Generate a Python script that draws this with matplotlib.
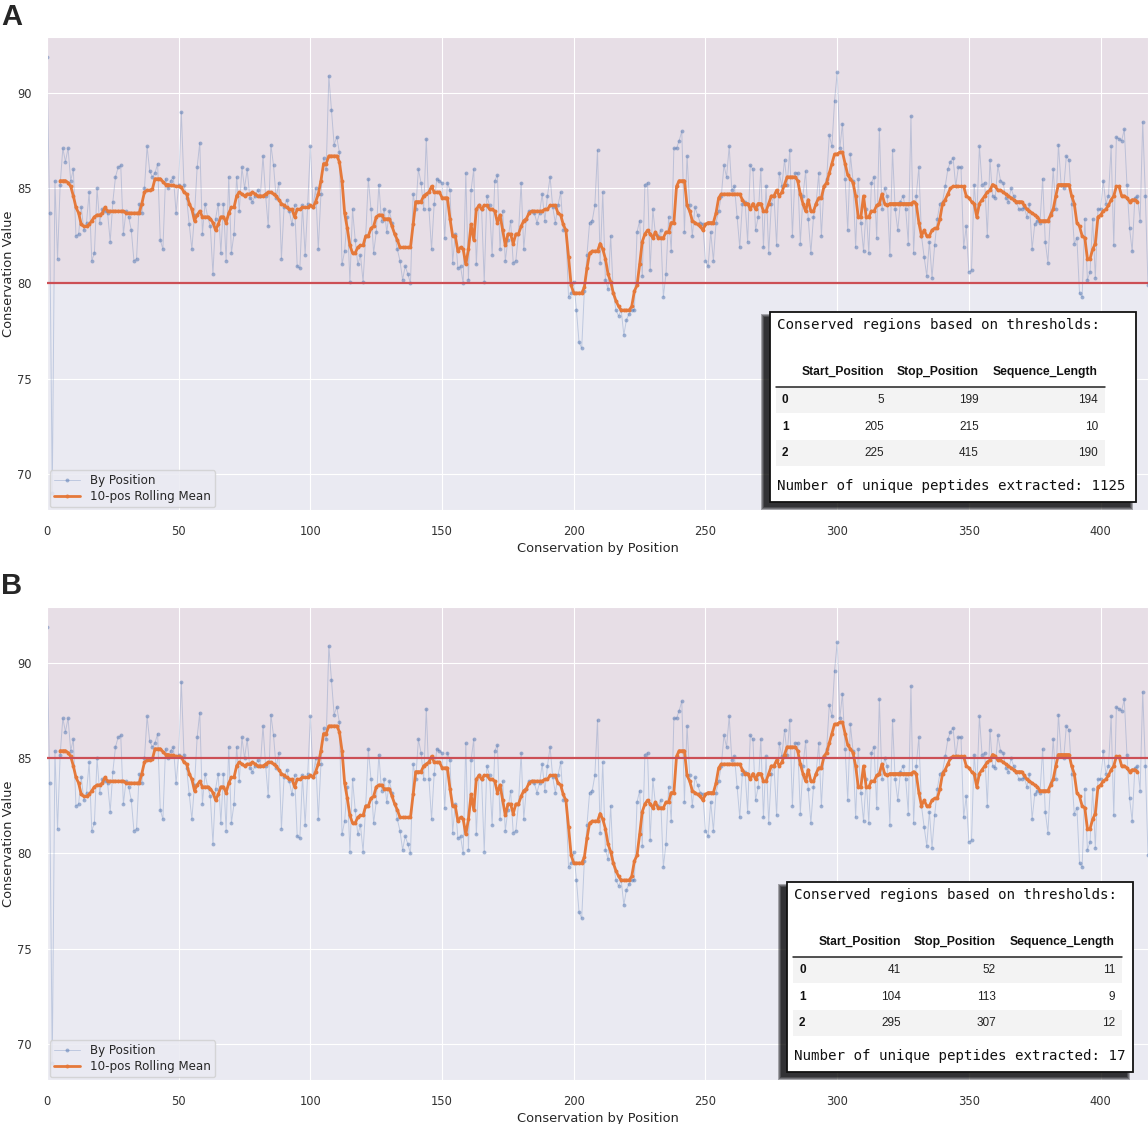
import numpy as np
import matplotlib.pyplot as plt
import seaborn as sns
from matplotlib.patches import Rectangle
from matplotlib.lines import Line2D

sns.set_style("darkgrid")
plt.rcParams['font.family'] = ['DejaVu Sans']

# conservation value at each position (0..418)
conservation = [
    91.9, 83.7, 69.0, 85.4, 81.3, 85.2, 87.1, 86.4, 87.1, 85.4,
    86.0, 82.5, 82.6, 84.0, 82.8, 83.2, 84.8, 81.2, 81.6, 85.0,
    83.2, 83.9, 83.8, 83.7, 82.2, 84.3, 85.6, 86.1, 86.2, 82.6,
    83.8, 83.5, 82.8, 81.2, 81.3, 84.2, 83.7, 85.0, 87.2, 85.9,
    85.6, 85.8, 86.3, 82.3, 81.8, 85.5, 85.0, 85.4, 85.6, 83.7,
    85.2, 89.0, 85.2, 84.5, 83.1, 81.8, 83.6, 86.1, 87.4, 82.6,
    84.2, 83.5, 83.0, 80.5, 83.4, 84.2, 81.6, 84.2, 81.2, 85.6,
    81.6, 82.6, 85.6, 83.8, 86.1, 85.0, 86.0, 84.5, 84.3, 84.6,
    84.9, 84.6, 86.7, 84.6, 83.0, 87.3, 86.2, 84.5, 85.3, 81.3,
    84.0, 84.4, 83.8, 83.1, 84.1, 80.9, 80.8, 84.1, 81.5, 84.2,
    87.2, 84.0, 85.0, 81.8, 84.7, 86.6, 86.0, 90.9, 89.1, 87.3,
    87.7, 86.9, 81.0, 81.7, 83.5, 80.1, 83.9, 82.3, 81.0, 81.5,
    80.1, 82.5, 85.5, 83.9, 81.6, 82.7, 85.2, 83.3, 83.9, 82.7,
    83.8, 83.2, 82.6, 81.8, 81.2, 80.2, 80.9, 80.5, 80.0, 84.7,
    83.9, 86.0, 85.3, 83.9, 87.6, 83.9, 81.8, 84.2, 85.5, 85.4,
    85.3, 82.4, 85.3, 84.9, 81.1, 82.6, 80.8, 80.9, 80.0, 85.8,
    80.2, 84.9, 86.0, 81.0, 84.1, 83.9, 80.1, 84.6, 84.1, 81.5,
    85.4, 85.7, 81.8, 83.8, 81.2, 82.3, 83.3, 81.1, 81.2, 82.6,
    85.3, 81.8, 83.4, 83.8, 83.8, 83.7, 83.2, 83.7, 84.7, 83.3,
    84.6, 85.6, 84.0, 83.2, 84.1, 84.8, 82.8, 82.8, 79.3, 79.5,
    80.1, 78.6, 76.9, 76.6, 79.6, 81.5, 83.2, 83.3, 84.1, 87.0,
    81.1, 84.8, 80.2, 79.7, 82.5, 79.5, 78.6, 78.3, 78.6, 77.3,
    78.1, 78.4, 78.6, 78.6, 82.7, 83.3, 80.4, 85.2, 85.3, 80.7,
    83.9, 82.6, 82.5, 82.8, 79.3, 80.5, 83.5, 81.7, 87.1, 87.1,
    87.5, 88.0, 82.7, 86.7, 84.1, 82.5, 84.0, 83.6, 83.2, 83.1,
    81.2, 80.9, 82.7, 81.2, 83.2, 83.8, 84.6, 86.2, 85.6, 87.2,
    84.9, 85.1, 83.5, 81.9, 84.2, 84.3, 82.2, 86.2, 86.0, 82.8,
    83.5, 86.0, 81.9, 85.1, 81.6, 84.2, 84.6, 82.0, 85.8, 85.1,
    86.5, 85.2, 87.0, 82.5, 85.8, 85.8, 82.1, 84.6, 85.9, 83.4,
    81.6, 83.5, 84.2, 85.8, 82.5, 85.1, 85.5, 87.8, 87.2, 89.6,
    91.1, 87.1, 88.4, 85.5, 82.8, 86.8, 85.4, 81.9, 85.5, 83.2,
    81.7, 83.9, 81.6, 85.3, 85.6, 82.4, 88.1, 83.9, 85.0, 84.6,
    81.5, 87.0, 83.9, 82.8, 84.3, 84.6, 83.9, 82.1, 88.8, 81.6,
    84.6, 86.1, 82.5, 81.4, 80.4, 82.2, 80.3, 82.0, 83.4, 84.2,
    84.3, 85.1, 86.0, 86.4, 86.6, 85.1, 86.1, 86.1, 81.9, 83.0,
    80.6, 80.7, 85.2, 83.5, 87.2, 85.2, 85.3, 82.5, 86.5, 84.6,
    84.5, 86.2, 85.4, 85.3, 84.5, 84.3, 85.0, 84.6, 84.3, 83.9,
    83.9, 84.0, 83.5, 84.2, 81.8, 83.1, 83.3, 83.2, 85.5, 82.2,
    81.1, 83.7, 86.0, 83.9, 87.3, 85.2, 85.0, 86.7, 86.5, 84.2,
    82.1, 82.4, 79.5, 79.3, 83.4, 80.2, 80.6, 83.4, 80.3, 83.9,
    83.9, 85.4, 84.2, 84.6, 87.2, 82.0, 87.7, 87.6, 87.5, 88.1,
    85.2, 82.9, 81.7, 84.5, 84.6, 83.3, 88.5, 84.6, 79.9,
]

# 10-position rolling mean, defined from position 5 to 414
rolling_start = 5
rolling_mean = [
    85.4, 85.4, 85.4, 85.3, 85.1, 84.6, 84.0, 83.7, 83.1, 83.0,
    83.0, 83.1, 83.3, 83.5, 83.6, 83.6, 83.7, 84.0, 83.8, 83.8,
    83.8, 83.8, 83.8, 83.8, 83.8, 83.7, 83.7, 83.7, 83.7, 83.7,
    83.7, 84.2, 84.8, 84.9, 84.9, 84.95, 85.5, 85.5, 85.5, 85.35,
    85.2, 85.2, 85.15, 85.15, 85.1, 85.1, 85.05, 84.8, 84.7, 84.2,
    83.9, 83.3, 83.6, 83.8, 83.5, 83.5, 83.5, 83.4, 83.2, 82.8,
    83.1, 83.5, 83.5, 83.2, 83.7, 84.0, 84.0, 84.6, 84.8, 84.7,
    84.6, 84.7, 84.7, 84.8, 84.7, 84.6, 84.6, 84.6, 84.7, 84.8,
    84.8, 84.7, 84.6, 84.4, 84.2, 84.1, 84.0, 83.9, 83.9, 83.5,
    83.9, 83.9, 84.0, 84.0, 84.0, 84.1, 84.0, 84.3, 84.7, 85.4,
    86.3, 86.3, 86.7, 86.7, 86.7, 86.7, 86.4, 85.4, 83.7, 82.9,
    82.0, 81.6, 81.6, 81.9, 82.0, 82.0, 82.5, 82.5, 82.9, 83.0,
    83.5, 83.6, 83.6, 83.4, 83.4, 83.4, 83.0, 82.6, 82.3, 81.9,
    81.9, 81.9, 81.9, 81.9, 83.1, 84.3, 84.3, 84.3, 84.6, 84.7,
    84.8, 85.1, 84.8, 84.8, 84.8, 84.5, 84.5, 84.5, 83.4, 82.5,
    82.5, 81.7, 81.9, 81.8, 81.0, 81.8, 83.1, 82.3, 83.9, 84.1,
    83.9, 84.1, 84.1, 83.9, 83.9, 83.8, 83.2, 83.6, 82.8, 82.0,
    82.6, 82.6, 82.1, 82.6, 82.6, 83.0, 83.3, 83.4, 83.7, 83.8,
    83.8, 83.8, 83.8, 83.8, 83.9, 83.9, 84.1, 84.1, 84.1, 83.7,
    83.6, 83.1, 82.8, 81.4, 79.9, 79.5, 79.5, 79.5, 79.5, 79.8,
    80.8, 81.6, 81.7, 81.7, 81.7, 82.1, 81.8, 81.3, 80.5, 80.1,
    79.5, 79.1, 78.8, 78.6, 78.6, 78.6, 78.6, 78.8, 79.6, 79.9,
    81.0, 82.2, 82.6, 82.8, 82.6, 82.4, 82.7, 82.4, 82.4, 82.4,
    82.7, 82.7, 83.2, 83.2, 85.1, 85.4, 85.4, 85.4, 84.1, 83.8,
    83.3, 83.2, 83.1, 83.0, 82.8, 83.1, 83.2, 83.2, 83.2, 83.7,
    84.5, 84.7, 84.7, 84.7, 84.7, 84.7, 84.7, 84.7, 84.7, 84.4,
    84.2, 84.2, 83.9, 84.2, 83.9, 84.2, 84.2, 83.8, 83.8, 84.2,
    84.6, 84.6, 84.9, 84.6, 84.8, 85.2, 85.6, 85.6, 85.6, 85.6,
    85.4, 84.7, 84.2, 83.8, 84.4, 83.8, 83.8, 84.2, 84.5, 84.5,
    85.1, 85.3, 85.8, 86.3, 86.8, 86.8, 86.9, 86.9, 86.3, 85.7,
    85.5, 85.3, 84.6, 83.5, 83.5, 84.6, 83.5, 83.5, 83.8, 83.8,
    84.1, 84.2, 84.7, 84.2, 84.1, 84.2, 84.2, 84.2, 84.2, 84.2,
    84.2, 84.2, 84.2, 84.2, 84.3, 84.2, 83.2, 82.5, 82.8, 82.5,
    82.5, 82.8, 82.9, 82.9, 83.4, 84.2, 84.4, 84.7, 85.0, 85.1,
    85.1, 85.1, 85.1, 85.1, 84.6, 84.5, 84.3, 84.2, 83.5, 84.2,
    84.4, 84.6, 84.8, 84.9, 85.2, 85.1, 84.9, 84.9, 84.8, 84.7,
    84.6, 84.5, 84.4, 84.3, 84.3, 84.3, 84.1, 83.9, 83.8, 83.7,
    83.6, 83.5, 83.3, 83.3, 83.3, 83.3, 83.6, 83.9, 84.6, 85.2,
    85.2, 85.2, 85.2, 85.2, 84.6, 84.2, 83.2, 83.0, 82.5, 82.4,
    81.3, 81.3, 81.8, 82.1, 83.5, 83.6, 83.8, 83.9, 84.1, 84.4,
    84.6, 85.1, 85.1, 84.6, 84.6, 84.5, 84.3, 84.4, 84.4, 84.3,
]

panel_labels = ['A', 'B']
thresholds = [80, 85]
start_position = [[5, 205, 225], [41, 104, 295]]
stop_position = [[199, 215, 415], [52, 113, 307]]
sequence_length = [[194, 10, 190], [11, 9, 12]]
n_peptides = [1125, 17]
col_names = ['Start_Position', 'Stop_Position', 'Sequence_Length']

W, H = 1148, 1124
fig = plt.figure(figsize=(W / 100, H / 100), dpi=100)


def px(x, y):
    return x / W, 1 - y / H


def fig_rect(x, y, w, h, **kw):
    r = Rectangle((x / W, 1 - (y + h) / H), w / W, h / H,
                  transform=fig.transFigure, **kw)
    fig.add_artist(r)
    return r


pos = np.arange(len(conservation))
roll = np.full(len(conservation), np.nan)
roll[rolling_start:rolling_start + len(rolling_mean)] = rolling_mean

blue = (0.30, 0.45, 0.69)
orange = '#E5793A'
red = '#CC4F55'

axes_px = [(47, 37, 1148, 510), (47, 607, 1148, 1080)]
box_px = [(770, 312, 366, 190), (787, 882, 346, 190)]
letter_y = [3, 572]

for i in range(2):
    l, t, r, b = axes_px[i]
    ax = fig.add_axes([l / W, 1 - b / H, (r - l) / W, (b - t) / H])
    ax.axhspan(thresholds[i], 100, color='#C44E52', alpha=0.075, lw=0, zorder=0)
    ax.plot(pos, conservation, color=blue + (0.28,), lw=0.7, marker='o', ms=2.8,
            mfc=blue + (0.5,), mec='none', label='By Position', zorder=2)
    ax.plot(pos, roll, color=orange, lw=2.0, marker='o', ms=2.8, mec='none',
            label='10-pos Rolling Mean', zorder=3)
    ax.axhline(thresholds[i], color=red, lw=1.6, zorder=4)
    ax.set_xlim(0, len(conservation) - 1)
    ax.set_ylim(68.1, 92.95)
    ax.set_xticks(range(0, 401, 50))
    ax.set_yticks([70, 75, 80, 85, 90])
    ax.tick_params(labelsize=8.3, colors='#333333', pad=7.5)
    ax.set_xlabel('Conservation by Position', fontsize=9.4, color='#262626', labelpad=3)
    ax.set_ylabel('Conservation Value', fontsize=9.4, color='#262626')
    ax.yaxis.set_label_coords(-0.0295, 0.5)
    ax.legend(loc='lower left', fontsize=8.6, borderaxespad=0.25, handlelength=2.2,
              labelspacing=0.2, borderpad=0.35, edgecolor='0.82', framealpha=0.85)

    fig.text(*px(1, letter_y[i]), panel_labels[i], fontsize=21, fontweight='bold',
             family='Liberation Sans', va='top', ha='left')

    # conserved regions table, pasted over the plot
    bx, by, bw, bh = box_px[i]
    for s, a in [(3, 0.3), (2, 0.3), (1, 0.3), (0, 0.35)]:
        fig_rect(bx - 6 - s, by + 5 - s, bw + 2 * s, bh + 2 * s, facecolor='black',
                 edgecolor='none', lw=0, alpha=a, zorder=5)
    fig_rect(bx, by, bw, bh, facecolor='white', edgecolor='#111111', lw=1.3, zorder=6)

    tx = bx + 7
    fig.text(*px(tx, by + 13), 'Conserved regions based on thresholds:',
             family='DejaVu Sans Mono', fontsize=10.2, va='center', ha='left',
             color='#111111', zorder=8)
    col_right = [tx + 107, tx + 202, tx + 321]
    for j, name in enumerate(col_names):
        fig.text(*px(col_right[j], by + 60), name, family='Liberation Sans',
                 fontweight='bold', fontsize=8.7, ha='right', va='center',
                 color='#111111', zorder=8)
    fig.add_artist(Line2D([(tx - 1) / W, (tx + 328) / W],
                          [1 - (by + 75) / H, 1 - (by + 75) / H],
                          transform=fig.transFigure, color='#222222', lw=1.1, zorder=8))
    row_y = [by + 88, by + 114.5, by + 140.5]
    for k in range(3):
        if k % 2 == 0:
            fig_rect(tx - 1, row_y[k] - 13, 329, 26, facecolor='#F3F3F3',
                     edgecolor='none', zorder=7)
        fig.text(*px(tx + 5, row_y[k]), str(k), family='Liberation Sans',
                 fontweight='bold', fontsize=8.5, ha='left', va='center',
                 color='#111111', zorder=8)
        vals = [start_position[i][k], stop_position[i][k], sequence_length[i][k]]
        for j, v in enumerate(vals):
            fig.text(*px(col_right[j], row_y[k]), str(v), family='Liberation Sans',
                     fontsize=8.5, ha='right', va='center', color='#222222', zorder=8)
    fig.text(*px(tx, by + 174), 'Number of unique peptides extracted: %d' % n_peptides[i],
             family='DejaVu Sans Mono', fontsize=10.2, va='center', ha='left',
             color='#111111', zorder=8)

fig.savefig('out.png', dpi=100)
